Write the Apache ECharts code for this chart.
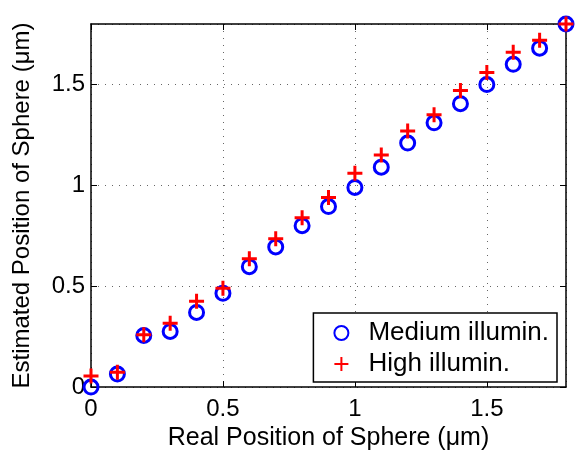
<!DOCTYPE html>
<html>
<head>
    <meta charset="UTF-8"/>
    <script type="text/javascript" src="https://cdn.jsdelivr.net/npm/echarts@6/dist/echarts.min.js"></script>
    <title>sphere position</title>
    <style>
        html, body { margin: 0; padding: 0; background: #fff; }
        #chart { width: 576px; height: 456px; }
    </style>
</head>
<body>
<div id="chart"></div>
<script>
    // real positions (um)
    var realPos = [0, 0.1, 0.2, 0.3, 0.4, 0.5, 0.6, 0.7, 0.8, 0.9, 1.0, 1.1, 1.2, 1.3, 1.4, 1.5, 1.6, 1.7, 1.8];
    // estimated positions
    var mediumIllum = [0, 0.065, 0.256, 0.276, 0.37, 0.465, 0.597, 0.695, 0.80, 0.895, 0.99, 1.09, 1.21, 1.31, 1.405, 1.50, 1.60, 1.68, 1.80];
    var highIllum = [0.055, 0.074, 0.26, 0.316, 0.425, 0.49, 0.636, 0.735, 0.84, 0.94, 1.06, 1.15, 1.27, 1.35, 1.47, 1.56, 1.66, 1.72, 1.80];
    var xTicks = [0, 0.5, 1, 1.5];
    var yTicks = [0, 0.5, 1, 1.5];
    var seriesNames = ['Medium illumin.', 'High illumin.'];

    var font = 'Liberation Sans';
    var plusPath = 'path://M0,5L10,5M5,0L5,10';

    function pairs(xs, ys) {
        var out = [];
        for (var i = 0; i < xs.length; i++) {
            out.push([xs[i], ys[i]]);
        }
        return out;
    }

    function showTick(list) {
        return function (v) {
            for (var i = 0; i < list.length; i++) {
                if (Math.abs(list[i] - v) < 1e-6) return String(list[i]);
            }
            return '';
        };
    }

    var gridLine = { show: true, lineStyle: { color: '#666', type: [1, 6], width: 1 } };
    var axisLine = { show: true, onZero: false, lineStyle: { color: '#000', width: 1.5 } };
    var tick = { show: true, inside: true, length: 6, lineStyle: { color: '#000', width: 1 } };

    var chart = echarts.init(document.getElementById('chart'));
    chart.setOption({
        animation: false,
        backgroundColor: '#fff',
        textStyle: { fontFamily: font },
        grid: { left: 91, right: 10, top: 24, bottom: 67 },
        legend: {
            orient: 'vertical',
            right: 19,
            top: 313,
            padding: [7, 8, 5, 20],
            itemGap: 5,
            itemWidth: 14,
            itemHeight: 14,
            backgroundColor: '#fff',
            borderColor: '#000',
            borderWidth: 1.5,
            borderRadius: 0,
            textStyle: { fontFamily: font, fontSize: 26, color: '#000', padding: [0, 0, 0, 15] },
            data: seriesNames
        },
        xAxis: [{
            type: 'value',
            min: 0, max: 1.8, interval: 0.5,
            name: 'Real Position of Sphere (\u03bcm)',
            nameLocation: 'middle',
            nameGap: 35,
            nameTextStyle: { fontFamily: font, fontSize: 25, color: '#000' },
            axisLine: axisLine,
            axisTick: tick,
            axisLabel: { color: '#000', fontSize: 24, fontFamily: font, margin: 10, showMaxLabel: false, formatter: showTick(xTicks) },
            splitLine: gridLine
        }, {
            type: 'value', position: 'top',
            min: 0, max: 1.8, interval: 0.5,
            axisLine: axisLine, axisTick: tick,
            axisLabel: { show: false }, splitLine: { show: false }
        }],
        yAxis: [{
            type: 'value',
            min: 0, max: 1.8, interval: 0.5,
            name: 'Estimated Position of Sphere (\u03bcm)',
            nameLocation: 'middle',
            nameGap: 57,
            nameTextStyle: { fontFamily: font, fontSize: 24, color: '#000' },
            axisLine: axisLine,
            axisTick: tick,
            axisLabel: { color: '#000', fontSize: 24, fontFamily: font, margin: 6, showMaxLabel: false, formatter: showTick(yTicks) },
            splitLine: gridLine
        }, {
            type: 'value', position: 'right',
            min: 0, max: 1.8, interval: 0.5,
            axisLine: axisLine, axisTick: tick,
            axisLabel: { show: false }, splitLine: { show: false }
        }],
        series: [{
            name: seriesNames[0],
            type: 'scatter',
            symbol: 'circle',
            symbolSize: 14,
            itemStyle: { color: 'rgba(0,0,0,0)', borderColor: '#0000ff', borderWidth: 3, opacity: 1 },
            data: pairs(realPos, mediumIllum),
            z: 3
        }, {
            name: seriesNames[1],
            type: 'scatter',
            symbol: plusPath,
            symbolSize: 15,
            itemStyle: { color: 'rgba(0,0,0,0)', borderColor: '#ff0000', borderWidth: 3, opacity: 1 },
            data: pairs(realPos, highIllum),
            z: 4
        }]
    });
</script>
</body>
</html>
